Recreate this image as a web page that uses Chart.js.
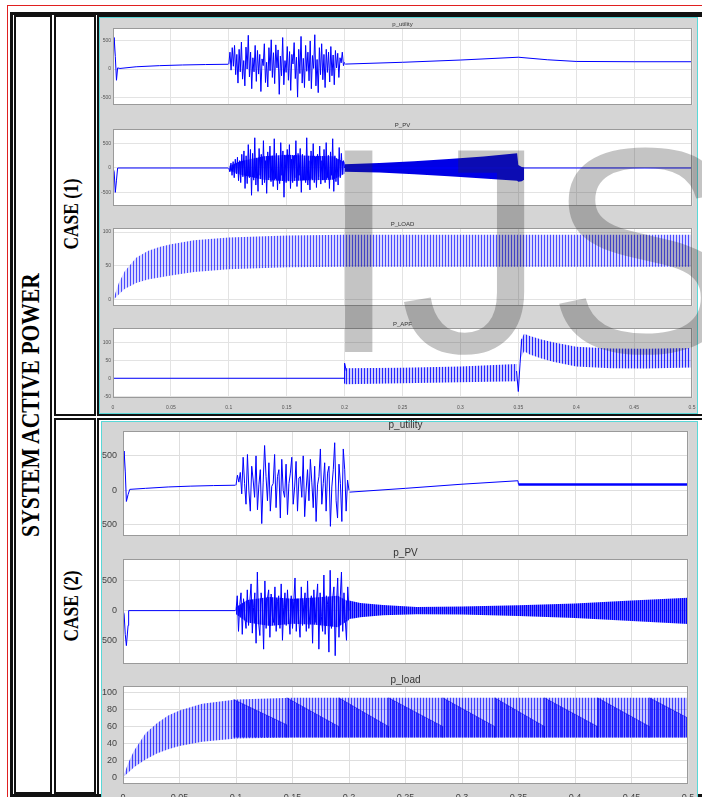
<!DOCTYPE html>
<html>
<head>
<meta charset="utf-8">
<title>System active power</title>
<script src="https://cdn.jsdelivr.net/npm/chart.js@4.4.1/dist/chart.umd.min.js"></script>
<style>
  body { margin: 0; width: 702px; height: 797px; overflow: hidden; position: relative; background: #fff; }
  .box { position: absolute; box-sizing: border-box; }
  canvas { position: absolute; }
  .vl { position: absolute; white-space: nowrap; font-family: 'Liberation Serif', 'Times New Roman', serif;
        font-weight: bold; color: #000; line-height: 1;
        transform: translate(-50%, -50%) rotate(-90deg) scaleX(0.83); }
  #wm { position: absolute; left: 318px; top: 104px; font-family: 'Liberation Sans', Arial, sans-serif;
        font-size: 293px; line-height: 293px; color: rgba(44, 44, 44, 0.28); white-space: nowrap; z-index: 5; }
</style>
</head>
<body>
<!-- table frame -->
<div class="box" style="left:7px;top:5px;width:800px;height:900px;border:1px solid #e02020"></div>
<div class="box" style="left:10px;top:12px;width:800px;height:785px;border:3px solid #111"></div>
<div class="box" style="left:14px;top:15px;width:38px;height:779px;border:2px solid #111"></div>
<div class="box" style="left:54px;top:15px;width:42px;height:401px;border:2px solid #111"></div>
<div class="box" style="left:54px;top:418px;width:42px;height:376px;border:2px solid #111"></div>
<div class="box" style="left:97px;top:15px;width:700px;height:401px;border:2px solid #111"></div>
<div class="box" style="left:97px;top:418px;width:700px;height:400px;border:2px solid #111"></div>
<div class="box" style="left:99px;top:17px;width:599px;height:397px;border:1px solid #5ad8d8;background:#d5d5d5"></div>
<div class="box" style="left:101px;top:421px;width:597px;height:390px;border:1px solid #5ad8d8;background:#d5d5d5"></div>

<div class="vl" style="left:31px;top:405px;font-size:26px">SYSTEM ACTIVE POWER</div>
<div class="vl" style="left:71px;top:214px;font-size:21px">CASE (1)</div>
<div class="vl" style="left:71px;top:606px;font-size:21px">CASE (2)</div>

<canvas id="c1u"></canvas>
<canvas id="c1p"></canvas>
<canvas id="c1l"></canvas>
<canvas id="c1a"></canvas>
<canvas id="c2u"></canvas>
<canvas id="c2p"></canvas>
<canvas id="c2l"></canvas>

<div id="wm">IJS</div>

<script>
// ---- shared time axis (s) ----
const xTickVals = [0, 0.05, 0.1, 0.15, 0.2, 0.25, 0.3, 0.35, 0.4, 0.45, 0.5];
const xTickLabels = ['0', '0.05', '0.1', '0.15', '0.2', '0.25', '0.3', '0.35', '0.4', '0.45', '0.5'];

// ---- CASE (1) ----
// p_utility
const c1UtilTicks = [-500, 0, 500];
const c1UtilT = [0, 0.001, 0.002, 0.003, 0.004, 0.006, 0.02, 0.04, 0.06, 0.08, 0.0995];
const c1UtilY = [0, 560, 220, -200, 20, 10, 40, 60, 72, 80, 85];
// samples between 0.1 s and 0.2 s
const c1UtilNoise = [85, 300, -20, 380, 50, 420, -100, 260, -250, 350, -50, 480, -180, 150, -300, 390, 0,
  600, -140, 300, -350, 200, -50, 420, -220, 330, -90, 260, -400, 180, 60, 450, -240, 120, -320, 380, -30,
  520, -150, 290, -260, 430, 20, 340, -450, 230, -120, 560, -280, 150, -60, 400, -200, 310, -380, 260, 90,
  470, -170, 210, -500, 350, -80, 580, -250, 190, -330, 420, -40, 300, -210, 500, -350, 240, 10, 610, -300,
  170, -420, 380, -100, 450, -190, 260, -330, 350, -60, 300, -230, 400, -120, 250, -280, 330, 20, 280, -150,
  200, 110, 300, 60, 120];
const c1UtilT2 = [0.2005, 0.25, 0.3, 0.35, 0.375, 0.4, 0.45, 0.5];
const c1UtilY2 = [88, 120, 160, 210, 165, 135, 130, 130];

// P_PV
const c1PvTicks = [-500, 0, 500];
const c1PvT = [0, 0.001, 0.002, 0.003, 0.004, 0.0995];
const c1PvY = [0, -80, -500, -250, 0, 0];
const c1PvNoise = [0, -80, 100, -150, 130, -200, 180, -120, 220, -260, 150, -300, 280, -180, 350, -420, 250,
  -320, 480, -200, 380, -560, 300, -250, 620, -350, 200, -480, 400, -150, 280, -350, 560, -300, 150, -520,
  330, -200, 450, -280, 250, -380, 600, -220, 300, -450, 200, -320, 520, -150, 350, -600, 260, -300, 380,
  -250, 480, -420, 180, -300, 250, -200, 560, -380, 300, -150, 400, -500, 280, -250, 200, -300, 620, -350,
  150, -450, 350, -220, 500, -300, 230, -400, 280, -180, 450, -330, 150, -250, 380, -300, 520, -200, 260,
  -420, 330, -150, 600, -480, 250, -280, 180, -350, 420, -200, 300, -120, 150, 0];
// dense core of the oscillation
const c1PvCoreT = [0.1, 0.11, 0.13, 0.15, 0.17, 0.19, 0.2];
const c1PvCoreHi = [40, 140, 240, 270, 250, 240, 120];
const c1PvCoreLo = [-40, -140, -240, -270, -250, -240, -120];
const c1PvT2 = [0.2005, 0.5];
const c1PvY2 = [0, 0];
const c1PvBandT = [0.2, 0.23, 0.26, 0.29, 0.32, 0.349, 0.35, 0.353, 0.355];
const c1PvBandHi = [75, 100, 140, 185, 235, 300, 60, 20, 10];
const c1PvBandLo = [-75, -95, -130, -170, -215, -260, -280, -270, -240];

// P_LOAD
const c1LoadTicks = [0, 50, 100];
const c1LoadT = [0, 0.005, 0.01, 0.02, 0.03, 0.04, 0.05, 0.07, 0.1, 0.15, 0.2, 0.5];
const c1LoadHi = [0, 25, 42, 62, 72, 78, 82, 88, 92, 95, 96, 96];
const c1LoadLo = [0, 8, 16, 25, 30, 33, 36, 41, 45, 48, 49, 49];

// P_APF
const c1ApfTicks = [-50, 0, 50, 100];
const c1ApfZeroT = [0, 0.2];
const c1ApfZeroY = [0, 0];
const c1ApfStepT = [0.2, 0.2, 0.2015];
const c1ApfStepY = [-15, 42, 20];
const c1ApfDipT = [0.3485, 0.35, 0.3515, 0.353];
const c1ApfDipY = [20, -37, 40, 110];
const c1ApfBand1T = [0.2, 0.25, 0.3, 0.349];
const c1ApfBand1Hi = [28, 29, 33, 40];
const c1ApfBand1Lo = [-17, -14, -11, -8];
const c1ApfBand2T = [0.352, 0.355, 0.36, 0.37, 0.38, 0.4, 0.43, 0.46, 0.5];
const c1ApfBand2Hi = [105, 124, 118, 108, 100, 88, 83, 82, 84];
const c1ApfBand2Lo = [55, 75, 66, 55, 46, 33, 28, 27, 30];

// ---- CASE (2) ----
// p_utility
const c2UtilTicks = [-500, 0, 500];
const c2UtilT = [0, 0.001, 0.002, 0.003, 0.0045, 0.006, 0.02, 0.04, 0.06, 0.08, 0.0995];
const c2UtilY = [0, 570, 280, -160, -60, 15, 30, 50, 62, 70, 75];
const c2UtilNoise = [75, 220, 120, 260, -50, 480, 100, -200, 520, 0, -300, 350, 150, -100, 500, -280, 80,
  300, -480, 120, 650, 200, -150, 400, -300, 60, 100, 520, -250, 200, 300, -400, 450, 0, -100, 380, -350,
  100, 250, 480, -200, 50, 420, -300, 180, 200, -100, 500, -380, 0, 300, -150, 450, 120, -250, 350, -450,
  80, 200, 600, -200, 100, 400, -300, 250, 350, -520, 50, 300, 690, -150, -400, 380, 100, -450, 600, 300,
  -300, 150, 0];
const c2UtilT2 = [0.2005, 0.25, 0.3, 0.3495, 0.35];
const c2UtilY2 = [-25, 30, 90, 140, 85];
const c2UtilFlatT = [0.35, 0.5];
const c2UtilFlatY = [85, 85];

// p_PV
const c2PvTicks = [-500, 0, 500];
const c2PvT = [0, 0.001, 0.002, 0.003, 0.0045, 0.005, 0.0995];
const c2PvY = [0, -60, -400, -590, -250, 0, 0];
const c2PvNoise = [0, 250, -350, 100, 300, -400, 200, -100, -300, 350, -250, 150, 450, -380, 50, 300, -550,
  650, -200, -420, 300, 100, -650, 500, -300, 200, 350, -450, 280, -100, -200, 400, -350, 150, 250, -300,
  450, -500, 50, 300, -250, 350, -100, -400, 250, -300, 150, 550, -350, 200, -150, -450, 400, -250, 100,
  300, -350, 500, -300, 0, 250, -550, 350, -200, 150, 450, -650, 300, -100, -350, 600, -400, 250, 100, -700,
  680, -300, 200, 400, -760, 100, 550, -450, 200, 650, -350, 300, -150, -500, 400, 0];
const c2PvCoreT = [0.1, 0.11, 0.13, 0.15, 0.17, 0.19, 0.2];
const c2PvCoreHi = [60, 180, 230, 200, 220, 250, 150];
const c2PvCoreLo = [-60, -200, -260, -220, -240, -280, -160];
const c2PvBandT = [0.2, 0.205, 0.21, 0.23, 0.26, 0.3, 0.35, 0.4, 0.45, 0.5];
const c2PvBandHi = [170, 150, 130, 95, 60, 70, 90, 120, 170, 215];
const c2PvBandLo = [-140, -130, -110, -80, -60, -65, -90, -125, -175, -225];

// p_load
const c2LoadTicks = [0, 20, 40, 60, 80, 100];
const c2LoadT = [0, 0.005, 0.01, 0.02, 0.03, 0.04, 0.05, 0.07, 0.1, 0.15, 0.5];
const c2LoadHi = [0, 18, 32, 52, 64, 73, 79, 87, 92, 94, 94];
const c2LoadLo = [0, 6, 12, 21, 28, 33, 37, 42, 46, 47, 47];
const c2ToothEdges = [0.098, 0.145, 0.191, 0.235, 0.283, 0.329, 0.373, 0.42, 0.466, 0.5];
const c2ToothTop = [92, 94, 94, 94, 94, 94, 94, 94, 94];
const c2ToothEnd = [62, 60, 60, 60, 60, 60, 60, 60, 70];
const c2ToothBase = 47;

// ---------- helpers ----------
function pts(ts, ys) { return ts.map((t, i) => ({ x: t, y: ys[i] })); }
// place the read samples evenly over [t0, t1]
function spread(t0, t1, ys) { return ys.map((y, i) => ({ x: t0 + (t1 - t0) * i / (ys.length - 1), y: y })); }

function stripes(period, onA, offA) {
  const c = document.createElement('canvas');
  c.width = period; c.height = 1;
  const g = c.getContext('2d');
  g.fillStyle = 'rgba(0,0,255,' + offA + ')';
  g.fillRect(1, 0, period - 1, 1);
  g.fillStyle = 'rgba(0,0,255,' + onA + ')';
  g.fillRect(0, 0, 1, 1);
  return g.createPattern(c, 'repeat');
}

function line(data, w, col) {
  return { data: data, borderColor: col || '#0000ff', borderWidth: w || 1, pointRadius: 0, fill: false, tension: 0 };
}
function band(hi, lo, fillStyle) {
  return [
    { data: hi, borderColor: 'rgba(0,0,0,0)', borderWidth: 1, pointRadius: 0, fill: '+1', backgroundColor: fillStyle },
    { data: lo, borderColor: 'rgba(0,0,0,0)', borderWidth: 1, pointRadius: 0, fill: false }
  ];
}

const scopePlugin = {
  id: 'scope',
  beforeDraw(chart) {
    const a = chart.chartArea, c = chart.ctx;
    c.save();
    c.fillStyle = '#ffffff';
    c.fillRect(a.left, a.top, a.right - a.left, a.bottom - a.top);
    c.restore();
  },
  afterDraw(chart, args, opts) {
    const a = chart.chartArea, c = chart.ctx;
    c.save();
    c.strokeStyle = '#9a9a9a';
    c.lineWidth = 1;
    c.strokeRect(a.left + 0.5, a.top + 0.5, a.right - a.left - 1, a.bottom - a.top - 1);
    c.fillStyle = '#333';
    c.font = opts.size + 'px "Liberation Sans", Arial, sans-serif';
    c.textAlign = 'center';
    c.textBaseline = 'bottom';
    c.fillText(opts.text, (a.left + a.right) / 2, a.top - 1);
    c.restore();
  }
};

const small = { tick: 5, title: 6, titleSpace: 9, xH: 14, xPad: 7, yPad: 2, tickColor: '#555', grid: '#e3e3e3' };
const large = { tick: 9, title: 10, titleSpace: 13, xH: 17, xPad: 8, yPad: 6, tickColor: '#444', grid: '#dedede' };

function makePlot(p) {
  const s = p.style;
  const cv = document.getElementById(p.id);
  const bottomSpace = p.showX ? s.xH : 6;
  cv.width = p.right - p.left;
  cv.height = (p.bottom - p.top) + s.titleSpace + bottomSpace;
  cv.style.left = p.left + 'px';
  cv.style.top = (p.top - s.titleSpace) + 'px';
  const font = { size: s.tick, family: '"Liberation Sans", Arial, sans-serif' };
  new Chart(cv, {
    type: 'line',
    data: { datasets: p.sets },
    plugins: [scopePlugin],
    options: {
      responsive: false, animation: false, events: [],
      layout: { padding: { left: 0, right: p.right - p.plotRight, top: s.titleSpace, bottom: p.showX ? 0 : 6 } },
      plugins: { legend: { display: false }, tooltip: { enabled: false }, scope: { text: p.title, size: s.title } },
      scales: {
        x: {
          type: 'linear', min: 0, max: 0.5,
          afterBuildTicks: sc => { sc.ticks = xTickVals.map(v => ({ value: v })); },
          afterFit: sc => { sc.height = p.showX ? s.xH : 0; sc.paddingLeft = 0; sc.paddingRight = 0; },
          ticks: { display: p.showX, font: font, color: s.tickColor, padding: s.xPad, maxRotation: 0, autoSkip: false,
                   callback: v => xTickLabels[xTickVals.indexOf(v)] },
          grid: { color: s.grid, drawTicks: false },
          border: { display: false }
        },
        y: {
          type: 'linear', min: p.yMin, max: p.yMax,
          afterBuildTicks: sc => { sc.ticks = p.yTicks.map(v => ({ value: v })); },
          afterFit: sc => { sc.width = p.plotLeft - p.left; sc.paddingTop = 0; sc.paddingBottom = 0; },
          ticks: { font: font, color: s.tickColor, padding: s.yPad, callback: v => String(v) },
          grid: { color: s.grid, drawTicks: false },
          border: { display: false }
        }
      }
    }
  });
}

const loadFill1 = stripes(3, 0.7, 0.15);
const apfFill = stripes(3, 0.85, 0.2);
const loadFill2 = stripes(3, 0.75, 0.22);
const toothFill = stripes(2, 0.8, 0.35);
const pvFill2 = stripes(2, 1, 0.6);
const coreFill = stripes(2, 0.95, 0.45);

// teeth of the case (2) load power
const toothPts = [];
c2ToothTop.forEach((top, k) => {
  toothPts.push({ x: c2ToothEdges[k], y: c2ToothBase });
  toothPts.push({ x: c2ToothEdges[k], y: top });
  toothPts.push({ x: c2ToothEdges[k + 1], y: c2ToothEnd[k] });
});
toothPts.push({ x: 0.5, y: c2ToothBase });

const plots = [
  { id: 'c1u', style: small, left: 100, right: 696, plotLeft: 113, plotRight: 692, top: 28, bottom: 105,
    title: 'p_utility', yMin: -640, yMax: 730, yTicks: c1UtilTicks, showX: false,
    sets: [line(pts(c1UtilT, c1UtilY)), line(spread(0.1, 0.2, c1UtilNoise)), line(pts(c1UtilT2, c1UtilY2))] },
  { id: 'c1p', style: small, left: 100, right: 696, plotLeft: 113, plotRight: 692, top: 129, bottom: 206,
    title: 'P_PV', yMin: -780, yMax: 800, yTicks: c1PvTicks, showX: false,
    sets: [line(pts(c1PvT, c1PvY)), line(spread(0.1, 0.2, c1PvNoise)), line(pts(c1PvT2, c1PvY2))]
      .concat(band(pts(c1PvCoreT, c1PvCoreHi), pts(c1PvCoreT, c1PvCoreLo), coreFill))
      .concat(band(pts(c1PvBandT, c1PvBandHi), pts(c1PvBandT, c1PvBandLo), '#0000e6')) },
  { id: 'c1l', style: small, left: 100, right: 696, plotLeft: 113, plotRight: 692, top: 228, bottom: 306,
    title: 'P_LOAD', yMin: -9, yMax: 106, yTicks: c1LoadTicks, showX: false,
    sets: band(pts(c1LoadT, c1LoadHi), pts(c1LoadT, c1LoadLo), loadFill1) },
  { id: 'c1a', style: small, left: 100, right: 696, plotLeft: 113, plotRight: 692, top: 328, bottom: 398,
    title: 'P_APF', yMin: -55, yMax: 140, yTicks: c1ApfTicks, showX: true,
    sets: [line(pts(c1ApfZeroT, c1ApfZeroY)), line(pts(c1ApfStepT, c1ApfStepY)), line(pts(c1ApfDipT, c1ApfDipY))]
      .concat(band(pts(c1ApfBand1T, c1ApfBand1Hi), pts(c1ApfBand1T, c1ApfBand1Lo), apfFill))
      .concat(band(pts(c1ApfBand2T, c1ApfBand2Hi), pts(c1ApfBand2T, c1ApfBand2Lo), apfFill)) },
  { id: 'c2u', style: large, left: 102, right: 696, plotLeft: 123, plotRight: 688, top: 431, bottom: 536,
    title: 'p_utility', yMin: -660, yMax: 860, yTicks: c2UtilTicks, showX: false,
    sets: [line(pts(c2UtilT, c2UtilY)), line(spread(0.1, 0.2, c2UtilNoise)), line(pts(c2UtilT2, c2UtilY2)),
           line(pts(c2UtilFlatT, c2UtilFlatY), 2.5)] },
  { id: 'c2p', style: large, left: 102, right: 696, plotLeft: 123, plotRight: 688, top: 559, bottom: 664,
    title: 'p_PV', yMin: -900, yMax: 870, yTicks: c2PvTicks, showX: false,
    sets: [line(pts(c2PvT, c2PvY)), line(spread(0.1, 0.2, c2PvNoise))]
      .concat(band(pts(c2PvCoreT, c2PvCoreHi), pts(c2PvCoreT, c2PvCoreLo), coreFill))
      .concat(band(pts(c2PvBandT, c2PvBandHi), pts(c2PvBandT, c2PvBandLo), pvFill2)) },
  { id: 'c2l', style: large, left: 102, right: 696, plotLeft: 123, plotRight: 688, top: 686, bottom: 784,
    title: 'p_load', yMin: -8, yMax: 108, yTicks: c2LoadTicks, showX: true,
    sets: [Object.assign(line(toothPts, 1, 'rgba(0,0,220,0.45)'), { fill: { value: c2ToothBase }, backgroundColor: toothFill })]
      .concat(band(pts(c2LoadT, c2LoadHi), pts(c2LoadT, c2LoadLo), loadFill2)) }
];

plots.forEach(makePlot);
</script>
</body>
</html>
